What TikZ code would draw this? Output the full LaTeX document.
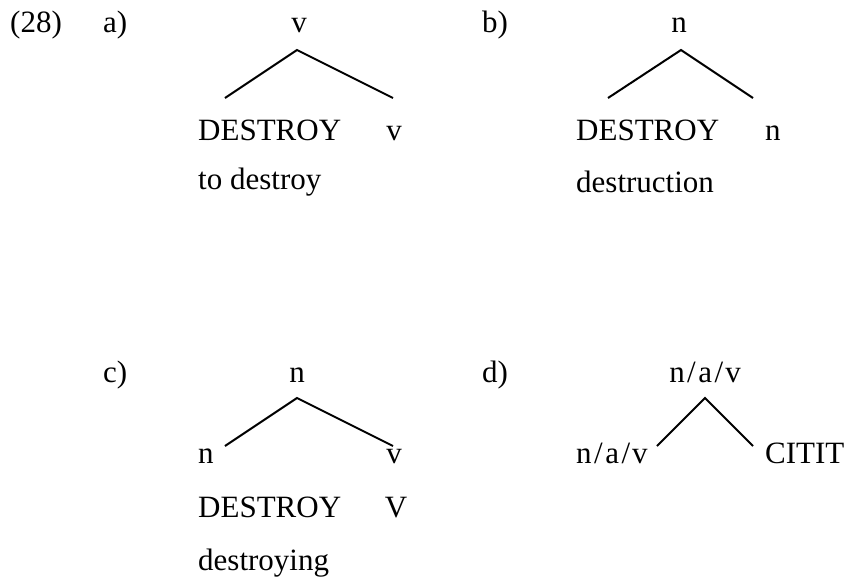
\documentclass[tikz,border=0pt]{standalone}
\usepackage{fontspec}
\setmainfont{Liberation Serif}
\newcommand{\nav}{n\kern2.5pt/\kern2.5pt a\kern2.5pt/\kern2pt v}
\begin{document}
\begin{tikzpicture}[x=1pt,y=-1pt,
  lbl/.style={inner sep=0pt,anchor=base west,font=\fontsize{31}{36}\selectfont},
  clbl/.style={inner sep=0pt,anchor=base,font=\fontsize{31}{36}\selectfont},
  branch/.style={line width=2pt,line cap=butt,line join=miter}]
\useasboundingbox (0,0) rectangle (846,579);
% labels
\node[lbl] (ex) at (10,32) {(28)};
\node[lbl] (la) at (103,32) {a)};
\node[lbl] (lb) at (482,32) {b)};
\node[lbl] (lc) at (103,382) {c)};
\node[lbl] (ld) at (482,382) {d)};
% tree a
\node[clbl] (av) at (299,32) {v};
\coordinate (aap) at (297,50);
\coordinate (aL) at (225,98);
\coordinate (aR) at (393,98);
\draw[branch] (aL) -- (aap) -- (aR);
\node[lbl] (ad) at (198,140) {DESTROY};
\node[clbl] (av2) at (394,140) {v};
\node[lbl] (at) at (198,189) {to destroy};
% tree b
\node[clbl] (bn) at (679,32) {n};
\coordinate (bap) at (681,50);
\coordinate (bL) at (608,98);
\coordinate (bR) at (753,98);
\draw[branch] (bL) -- (bap) -- (bR);
\node[lbl] (bd) at (576,140) {DESTROY};
\node[lbl] (bn2) at (765,140) {n};
\node[lbl] (bt) at (576,192) {destruction};
% tree c
\node[clbl] (cn) at (297,382) {n};
\coordinate (cap) at (297,398);
\coordinate (cL) at (225,446);
\coordinate (cR) at (393,446);
\draw[branch] (cL) -- (cap) -- (cR);
\node[lbl] (cn2) at (198,463) {n};
\node[clbl] (cv) at (394,463) {v};
\node[lbl] (cd) at (198,517) {DESTROY};
\node[clbl] (cV) at (396,517) {V};
\node[lbl] (ct) at (198,570) {destroying};
% tree d
\node[clbl] (dn) at (705,382) {\nav};
\coordinate (dap) at (705,398);
\coordinate (dL) at (657,446);
\coordinate (dR) at (753,446);
\draw[branch] (dL) -- (dap) -- (dR);
\node[lbl] (dl) at (576,463) {\nav};
\node[lbl] (dr) at (765,463) {CITIT};
\end{tikzpicture}
\end{document}
